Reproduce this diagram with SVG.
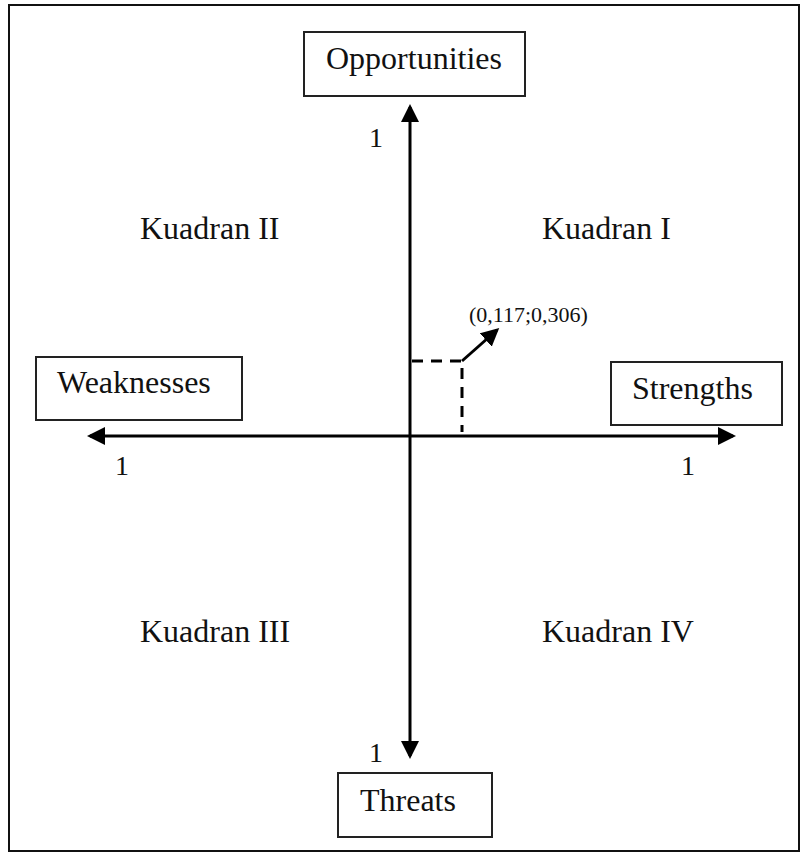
<svg xmlns="http://www.w3.org/2000/svg" width="804" height="856" viewBox="0 0 804 856">
<defs>
<style>
.box{fill:#fff;stroke:#222;stroke-width:2}
.t{font-family:"Liberation Serif","Times New Roman",serif;font-size:32px;fill:#111}
.n{font-family:"Liberation Serif","Times New Roman",serif;font-size:28px;fill:#111}
.s{font-family:"Liberation Serif","Times New Roman",serif;font-size:22px;fill:#111}
.ax{stroke:#000;stroke-width:3;fill:none}
.dash{stroke:#000;stroke-width:3;fill:none;stroke-dasharray:11 8}
</style>
<marker id="ah" markerWidth="6" markerHeight="6" refX="5" refY="3" orient="auto" markerUnits="strokeWidth" viewBox="0 0 6 6">
<path d="M0,0 L6,3 L0,6 Z" fill="#000"/>
</marker>
</defs>
<rect width="804" height="856" fill="#fff"/>
<rect x="9" y="5" width="790" height="846" fill="none" stroke="#111" stroke-width="2"/>
<g id="connectors">
<line class="ax" x1="410" y1="436" x2="410" y2="107" marker-end="url(#ah)"/>
<line class="ax" x1="410" y1="436" x2="410" y2="756" marker-end="url(#ah)"/>
<line class="ax" x1="410" y1="436" x2="90" y2="436" marker-end="url(#ah)"/>
<line class="ax" x1="410" y1="436" x2="733" y2="436" marker-end="url(#ah)"/>
<path class="dash" d="M412,361 H462 V432"/>
<line class="ax" x1="462" y1="361" x2="497" y2="330" marker-end="url(#ah)"/>
</g>
<g id="opportunities">
<rect class="box" x="304" y="32" width="221" height="64"/>
<text class="t" x="414" y="69" text-anchor="middle">Opportunities</text>
</g>
<g id="weaknesses">
<rect class="box" x="36" y="357" width="206" height="63"/>
<text class="t" x="57" y="393">Weaknesses</text>
</g>
<g id="strengths">
<rect class="box" x="611" y="362" width="171" height="63"/>
<text class="t" x="632" y="399">Strengths</text>
</g>
<g id="threats">
<rect class="box" x="338" y="773" width="154" height="64"/>
<text class="t" x="360" y="811">Threats</text>
</g>
<g id="labels">
<text class="t" x="140" y="239">Kuadran II</text>
<text class="t" x="542" y="239">Kuadran I</text>
<text class="t" x="140" y="642">Kuadran III</text>
<text class="t" x="542" y="642">Kuadran IV</text>
<text class="s" x="469" y="322">(0,117;0,306)</text>
<text class="n" x="376" y="147" text-anchor="middle">1</text>
<text class="n" x="122" y="475" text-anchor="middle">1</text>
<text class="n" x="688" y="475" text-anchor="middle">1</text>
<text class="n" x="376" y="762" text-anchor="middle">1</text>
</g>
</svg>
